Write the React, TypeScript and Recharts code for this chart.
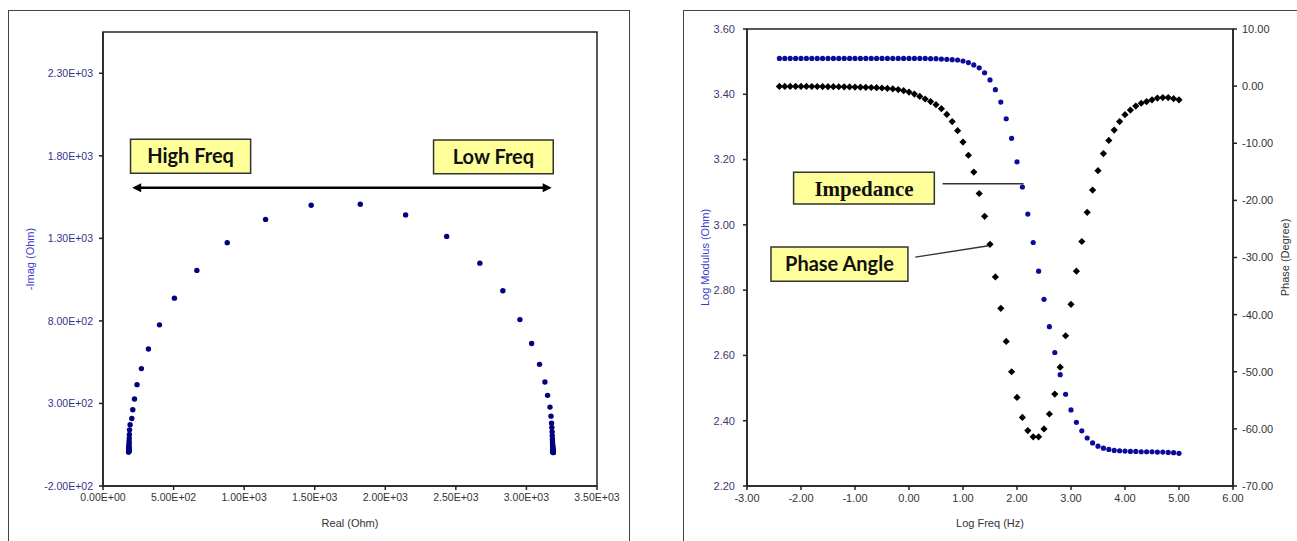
import React from 'react';
import { ScatterChart, Scatter, XAxis, YAxis, ReferenceArea, ReferenceLine } from 'recharts';

// ---------- data ----------
const logFreq = [
  -2.4, -2.3, -2.2, -2.1, -2.0, -1.9, -1.8, -1.7, -1.6, -1.5,
  -1.4, -1.3, -1.2, -1.1, -1.0, -0.9, -0.8, -0.7, -0.6, -0.5,
  -0.4, -0.3, -0.2, -0.1, 0.0, 0.1, 0.2, 0.3, 0.4, 0.5,
  0.6, 0.7, 0.8, 0.9, 1.0, 1.1, 1.2, 1.3, 1.4, 1.5,
  1.6, 1.7, 1.8, 1.9, 2.0, 2.1, 2.2, 2.3, 2.4, 2.5,
  2.6, 2.7, 2.8, 2.9, 3.0, 3.1, 3.2, 3.3, 3.4, 3.5,
  3.6, 3.7, 3.8, 3.9, 4.0, 4.1, 4.2, 4.3, 4.4, 4.5,
  4.6, 4.7, 4.8, 4.9, 5.0,
];

const logModulus = [
  3.510, 3.510, 3.510, 3.510, 3.510, 3.510, 3.510, 3.510, 3.510, 3.510,
  3.510, 3.510, 3.510, 3.510, 3.510, 3.510, 3.510, 3.510, 3.510, 3.510,
  3.510, 3.510, 3.510, 3.510, 3.510, 3.510, 3.510, 3.510, 3.509, 3.509,
  3.508, 3.507, 3.506, 3.505, 3.502, 3.497, 3.490, 3.481, 3.466, 3.444,
  3.414, 3.376, 3.325, 3.265, 3.193, 3.116, 3.033, 2.946, 2.858, 2.772,
  2.688, 2.609, 2.541, 2.481, 2.433, 2.395, 2.369, 2.347, 2.332, 2.322,
  2.316, 2.312, 2.309, 2.308, 2.307, 2.306, 2.306, 2.305, 2.305, 2.305,
  2.304, 2.304, 2.303, 2.302, 2.300,
];

const phaseAngle = [
  -0.05, -0.05, -0.05, -0.05, -0.06, -0.06, -0.07, -0.07, -0.08, -0.09,
  -0.10, -0.11, -0.12, -0.14, -0.16, -0.18, -0.21, -0.24, -0.28, -0.33,
  -0.40, -0.48, -0.60, -0.80, -1.05, -1.40, -1.80, -2.25, -2.70, -3.25,
  -3.95, -4.95, -6.20, -7.80, -9.80, -12.10, -15.05, -18.80, -22.80, -27.70,
  -33.4, -38.9, -44.7, -50.0, -54.5, -58.0, -60.3, -61.4, -61.4, -60.0,
  -57.4, -53.9, -49.2, -43.7, -38.2, -32.4, -27.2, -22.1, -18.2, -14.8,
  -11.8, -9.5, -7.7, -6.2, -5.0, -4.2, -3.5, -3.0, -2.7, -2.4,
  -2.1, -2.0, -2.0, -2.2, -2.4,
];

const nyquistReal = [
  3190, 3190, 3190, 3190, 3190, 3190, 3190, 3190, 3190, 3190,
  3189, 3189, 3189, 3189, 3189, 3189, 3188, 3188, 3188, 3188,
  3187, 3187, 3186, 3185, 3185, 3184, 3183, 3182, 3180, 3178,
  3174, 3167, 3150, 3131, 3093, 3037, 2954, 2833, 2670, 2435,
  2144, 1823, 1475, 1152, 880, 665, 506, 400, 322, 272,
  241, 223, 211, 204, 192, 188, 187, 186, 185, 185,
  184, 184, 184, 183, 183, 183, 183, 183, 183, 182,
  182, 182, 182, 182, 182,
];

const nyquistImag = [
  3, 3, 4, 4, 4, 5, 5, 6, 6, 7,
  8, 9, 10, 11, 12, 14, 16, 18, 21, 25,
  30, 37, 45, 55, 68, 84, 104, 128, 154, 181,
  223, 278, 349, 430, 537, 663, 808, 983, 1150, 1312,
  1442, 1507, 1501, 1415, 1274, 1106, 938, 776, 630, 511,
  414, 327, 262, 209, 171, 140, 112, 90, 73, 60,
  49, 40, 33, 28, 24, 20, 17, 15, 13, 11,
  10, 9, 8, 7, 6,
];

const realTicks = [0, 500, 1000, 1500, 2000, 2500, 3000, 3500];
const imagTicks = [-200, 300, 800, 1300, 1800, 2300];
const freqTicks = [-3, -2, -1, 0, 1, 2, 3, 4, 5, 6];
const modulusTicks = [2.2, 2.4, 2.6, 2.8, 3.0, 3.2, 3.4, 3.6];
const phaseTicks = [-70, -60, -50, -40, -30, -20, -10, 0, 10];

const nyquistRows = nyquistReal.map((re, i) => ({ re, im: nyquistImag[i] }));
const bodeRows = logFreq.map((f, i) => ({ f, z: logModulus[i], p: phaseAngle[i] }));

// ---------- helpers ----------
const FONT = '"Liberation Sans", Arial, sans-serif';

function fmtE(v: number): string {
  if (v === 0) return '0.00E+00';
  const e = Math.floor(Math.log10(Math.abs(v)) + 1e-9);
  const m = v / Math.pow(10, e);
  return `${m.toFixed(2)}E${e < 0 ? '-' : '+'}${String(Math.abs(e)).padStart(2, '0')}`;
}

const NyqDot = (props: any) => {
  const { cx, cy } = props;
  if (cx == null || cy == null) return null;
  return <circle cx={cx} cy={cy} r={2.7} fill="#000080" />;
};

const ModDot = (props: any) => {
  const { cx, cy } = props;
  if (cx == null || cy == null) return null;
  return <circle cx={cx} cy={cy} r={2.6} fill="#0c0c9c" />;
};

const PhaseDiamond = (props: any) => {
  const { cx, cy } = props;
  if (cx == null || cy == null) return null;
  const s = 3.6;
  return <path d={`M${cx},${cy - s}L${cx + s},${cy}L${cx},${cy + s}L${cx - s},${cy}Z`} fill="#000" />;
};

const DoubleArrow = (props: any) => {
  const { x1, y1, x2, y2 } = props;
  const h = 9;
  const w = 4.5;
  return (
    <g>
      <line x1={x1 + h - 1} y1={y1} x2={x2 - h + 1} y2={y2} stroke="#000" strokeWidth={2.6} />
      <polygon points={`${x1},${y1} ${x1 + h},${y1 - w} ${x1 + h},${y1 + w}`} fill="#000" />
      <polygon points={`${x2},${y2} ${x2 - h},${y2 - w} ${x2 - h},${y2 + w}`} fill="#000" />
    </g>
  );
};

const axisLine = { stroke: '#222', strokeWidth: 1.5 };
const calloutSans = { fill: '#111', fontSize: 20, fontWeight: 700, fontFamily: 'Lato, "Open Sans", sans-serif' };

export default function App() {
  return (
    <div style={{ position: 'absolute', left: 0, top: 0, width: 1297, height: 541, overflow: 'hidden', background: '#fff' }}>
      {/* outer frames */}
      <div style={{ position: 'absolute', left: 8, top: 10, width: 622, height: 600, border: '1.5px solid #444', boxSizing: 'border-box' }} />
      <div style={{ position: 'absolute', left: 683, top: 10, width: 700, height: 600, border: '1.5px solid #444', boxSizing: 'border-box' }} />

      {/* Nyquist */}
      <div style={{ position: 'absolute', left: 0, top: 0 }}>
        <ScatterChart width={640} height={541} margin={{ top: 32, right: 43, bottom: 0, left: 0 }}>
          <XAxis
            type="number" dataKey="re" domain={[0, 3500]} ticks={realTicks} tickFormatter={fmtE} interval={0}
            height={55} tickSize={4} tickMargin={4} allowDataOverflow
            tick={{ fill: '#333', fontSize: 10.5, fontFamily: FONT }}
            axisLine={axisLine} tickLine={axisLine}
            label={{ value: 'Real (Ohm)', position: 'insideBottom', offset: 14, fill: '#333', fontSize: 11, fontFamily: FONT }}
          />
          <YAxis
            type="number" dataKey="im" domain={[-200, 2550]} ticks={imagTicks} tickFormatter={fmtE} interval={0}
            width={103} tickSize={4} tickMargin={6} allowDataOverflow
            tick={{ fill: '#33338a', fontSize: 10.5, fontFamily: FONT }}
            axisLine={axisLine} tickLine={axisLine}
            label={{ value: '-Imag (Ohm)', angle: -90, position: 'insideLeft', offset: 30, fill: '#3a3acc', fontSize: 11, fontFamily: FONT, style: { textAnchor: 'middle' } }}
          />
          <ReferenceArea x1={0} x2={3500} y1={-200} y2={2550} fill="none" stroke="#222" strokeWidth={1.5} />
          <ReferenceArea x1={195} x2={1046} y1={1694} y2={1900} fill="#ffff99" fillOpacity={1} stroke="#333" strokeWidth={1.5}
            label={{ value: 'High Freq', position: 'center', ...calloutSans }} />
          <ReferenceArea x1={2342} x2={3190} y1={1692} y2={1896} fill="#ffff99" fillOpacity={1} stroke="#333" strokeWidth={1.5}
            label={{ value: 'Low Freq', position: 'center', ...calloutSans }} />
          <ReferenceLine segment={[{ x: 207, y: 1607 }, { x: 3179, y: 1607 }]} shape={DoubleArrow} />
          <Scatter data={nyquistRows} shape={NyqDot} isAnimationActive={false} />
        </ScatterChart>
      </div>

      {/* Bode */}
      <div style={{ position: 'absolute', left: 650, top: 0 }}>
        <ScatterChart width={647} height={541} margin={{ top: 29, right: 0, bottom: 0, left: 0 }}>
          <XAxis
            type="number" dataKey="f" domain={[-3, 6]} ticks={freqTicks} tickFormatter={(v: number) => v.toFixed(2)} interval={0}
            height={55} tickSize={4} tickMargin={4} allowDataOverflow
            tick={{ fill: '#333', fontSize: 11, fontFamily: FONT }}
            axisLine={axisLine} tickLine={axisLine}
            label={{ value: 'Log Freq (Hz)', position: 'insideBottom', offset: 14, fill: '#333', fontSize: 11, fontFamily: FONT }}
          />
          <YAxis
            yAxisId="mod" type="number" dataKey="z" domain={[2.2, 3.6]} ticks={modulusTicks} tickFormatter={(v: number) => v.toFixed(2)} interval={0}
            width={97} tickSize={4} tickMargin={8} allowDataOverflow
            tick={{ fill: '#3a3a6e', fontSize: 11, fontFamily: FONT }}
            axisLine={axisLine} tickLine={axisLine}
            label={{ value: 'Log Modulus  (Ohm)', angle: -90, position: 'insideLeft', offset: 55, fill: '#3a3acc', fontSize: 11, fontFamily: FONT, style: { textAnchor: 'middle' } }}
          />
          <YAxis
            yAxisId="ph" orientation="right" type="number" dataKey="p" domain={[-70, 10]} ticks={phaseTicks} tickFormatter={(v: number) => v.toFixed(2)} interval={0}
            width={64} tickSize={4} tickMargin={5} allowDataOverflow
            tick={{ fill: '#333', fontSize: 11, fontFamily: FONT }}
            axisLine={axisLine} tickLine={axisLine}
            label={{ value: 'Phase (Degree)', angle: -90, position: 'insideRight', offset: 12, fill: '#333', fontSize: 11, fontFamily: FONT, style: { textAnchor: 'middle' } }}
          />
          <ReferenceArea yAxisId="mod" x1={-3} x2={6} y1={2.2} y2={3.6} fill="none" stroke="#222" strokeWidth={1.5} />
          <ReferenceArea yAxisId="mod" x1={-2.137} x2={0.469} y1={3.064} y2={3.161} fill="#ffff99" fillOpacity={1} stroke="#333" strokeWidth={1.5}
            label={{ value: 'Impedance', position: 'center', fill: '#111', fontSize: 21, fontWeight: 700, fontFamily: '"Liberation Serif", "DejaVu Serif", serif' }} />
          <ReferenceArea yAxisId="mod" x1={-2.556} x2={-0.02} y1={2.827} y2={2.932} fill="#ffff99" fillOpacity={1} stroke="#333" strokeWidth={1.5}
            label={{ value: 'Phase Angle', position: 'center', ...calloutSans }} />
          <ReferenceLine yAxisId="mod" segment={[{ x: 0.622, y: 3.126 }, { x: 2.122, y: 3.126 }]} stroke="#333" strokeWidth={1.3} />
          <ReferenceLine yAxisId="mod" segment={[{ x: 0.116, y: 2.901 }, { x: 1.474, y: 2.936 }]} stroke="#333" strokeWidth={1.3} />
          <Scatter yAxisId="mod" data={bodeRows} shape={ModDot} isAnimationActive={false} />
          <Scatter yAxisId="ph" data={bodeRows} shape={PhaseDiamond} isAnimationActive={false} />
        </ScatterChart>
      </div>
    </div>
  );
}
